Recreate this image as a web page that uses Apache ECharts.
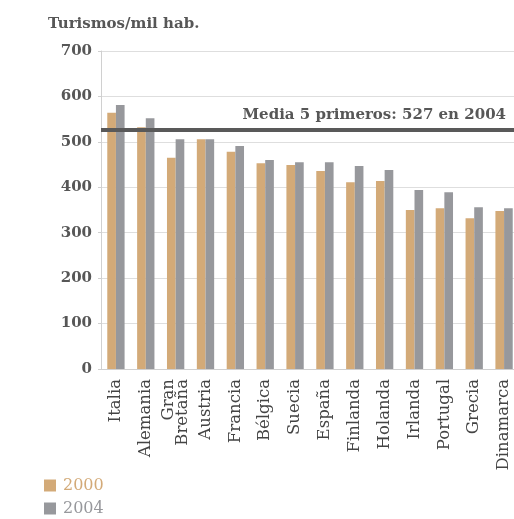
<!DOCTYPE html>
<html>
<head>
<meta charset="utf-8">
<script src="https://cdn.jsdelivr.net/npm/echarts@6/dist/echarts.min.js"></script>
<style>
  html, body { margin: 0; padding: 0; background: #fff; overflow: hidden; }
  /* the plot area runs a few pixels past the right edge of the window */
  #chart { width: 519px; height: 519px; }
</style>
</head>
<body>
<div id="chart"></div>
<script>
// Turismos por cada mil habitantes, 2000 y 2004
const countries = ['Italia', 'Alemania', 'Gran\nBretaña', 'Austria', 'Francia', 'Bélgica', 'Suecia',
  'España', 'Finlanda', 'Holanda', 'Irlanda', 'Portugal', 'Grecia', 'Dinamarca'];
const values2000 = [564, 532, 465, 506, 478, 453, 449, 436, 411, 414, 350, 354, 332, 348];
const values2004 = [581, 552, 506, 506, 491, 460, 455, 455, 447, 438, 394, 389, 356, 354];
const seriesNames = ['2000', '2004'];
const top5Mean2004 = 527;
const yTicks = [0, 100, 200, 300, 400, 500, 600, 700];

const FONT = 'DejaVu Serif';
const TEXT = '#575757';

const chart = echarts.init(document.getElementById('chart'), null, { renderer: 'canvas' });

chart.setOption({
  animation: false,
  title: {
    text: 'Turismos/mil hab.',
    left: 43,
    top: 12,
    textStyle: { fontFamily: FONT, fontSize: 15, fontWeight: 'bold', color: TEXT }
  },
  legend: {
    data: seriesNames,
    orient: 'vertical',
    left: 44,
    top: 476,
    padding: 0,
    itemWidth: 12,
    itemHeight: 12,
    itemGap: 4,
    icon: 'rect',
    textStyle: { fontFamily: FONT, fontSize: 16, color: 'inherit', lineHeight: 19, padding: [0, 0, 0, 2] }
  },
  grid: { left: 101, top: 51, bottom: 150, right: 0, containLabel: false },
  xAxis: {
    type: 'category',
    data: countries,
    axisLine: { lineStyle: { color: '#d0d0d0', width: 1 } },
    axisTick: { show: false },
    axisLabel: {
      rotate: 90,
      margin: 10,
      interval: 0,
      fontFamily: FONT,
      fontSize: 16.5,
      lineHeight: 14,
      color: '#444'
    }
  },
  yAxis: {
    type: 'value',
    min: yTicks[0],
    max: yTicks[yTicks.length - 1],
    interval: 100,
    axisLine: { show: true, lineStyle: { color: '#d0d0d0' } },
    axisTick: { show: true, length: 3, lineStyle: { color: '#d0d0d0' } },
    splitLine: { lineStyle: { color: '#dedede', width: 1 } },
    axisLabel: { margin: 9, fontFamily: FONT, fontSize: 15, fontWeight: 'bold', color: TEXT }
  },
  series: [
    {
      name: seriesNames[0],
      type: 'bar',
      data: values2000,
      barWidth: '29%',
      barGap: '0%',
      itemStyle: { color: '#d3aa78' }
    },
    {
      name: seriesNames[1],
      type: 'bar',
      data: values2004,
      barWidth: '29%',
      barGap: '0%',
      itemStyle: { color: '#97989c' },
      markLine: {
        silent: true,
        symbol: 'none',
        lineStyle: { color: '#595959', width: 4, type: 'solid' },
        label: {
          position: 'insideEndTop',
          formatter: 'Media 5 primeros: ' + top5Mean2004 + ' en 2004',
          fontFamily: FONT,
          fontSize: 15,
          fontWeight: 'bold',
          color: TEXT,
          padding: [0, 8, 2, 0]
        },
        data: [{ yAxis: top5Mean2004 }]
      }
    }
  ]
});
</script>
</body>
</html>
